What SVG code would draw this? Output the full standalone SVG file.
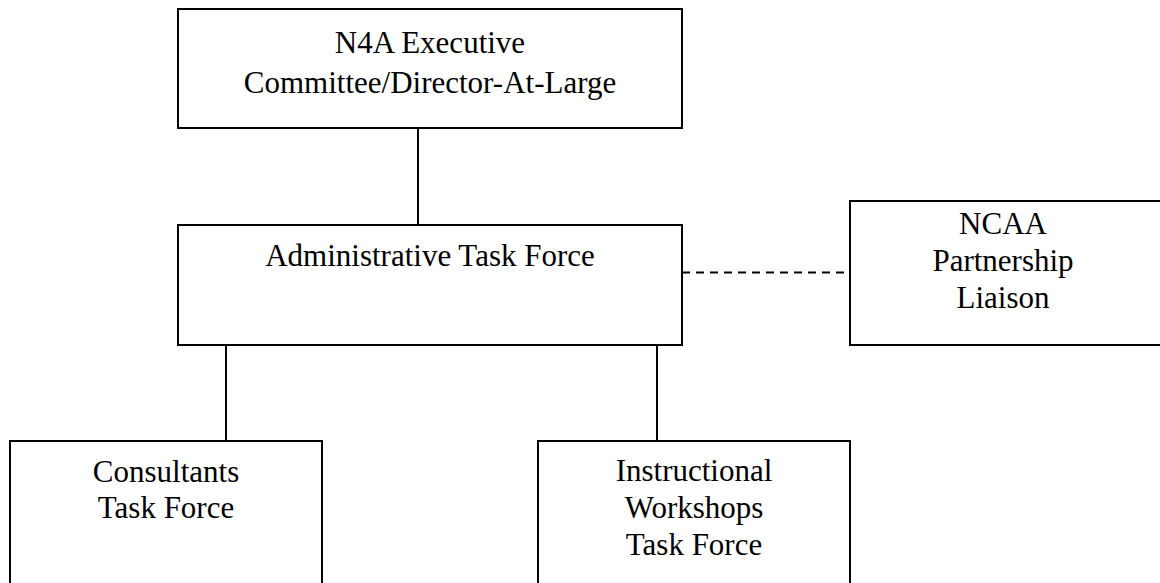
<svg xmlns="http://www.w3.org/2000/svg" width="1160" height="583" viewBox="0 0 1160 583">
<style>
.box{fill:#fff;stroke:#000;stroke-width:2}
.ln{stroke:#000;stroke-width:2;fill:none}
.dash{stroke-dasharray:8,6}
text{font-family:"Liberation Serif","Times New Roman",serif;font-size:31px;fill:#000;text-anchor:middle}
</style>
<rect width="1160" height="583" fill="#fff"/>
<g id="connectors">
<line class="ln" x1="418" y1="128" x2="418" y2="225"/>
<line class="ln" x1="226" y1="345" x2="226" y2="441"/>
<line class="ln" x1="657" y1="345" x2="657" y2="441"/>
<line class="ln dash" x1="682" y1="272.5" x2="850" y2="272.5"/>
</g>
<g id="n4a">
<rect class="box" x="178" y="9" width="504" height="119"/>
<text x="430" y="53">N4A Executive</text>
<text x="430" y="93">Committee/Director-At-Large</text>
</g>
<g id="admin">
<rect class="box" x="178" y="225" width="504" height="120"/>
<text x="430" y="266">Administrative Task Force</text>
</g>
<g id="ncaa">
<rect class="box" x="850" y="201" width="314" height="144"/>
<text x="1003" y="234">NCAA</text>
<text x="1003" y="271">Partnership</text>
<text x="1003" y="308">Liaison</text>
</g>
<g id="consultants">
<rect class="box" x="10" y="441" width="312" height="150"/>
<text x="166" y="482">Consultants</text>
<text x="166" y="518">Task Force</text>
</g>
<g id="workshops">
<rect class="box" x="538" y="441" width="312" height="150"/>
<text x="694" y="481">Instructional</text>
<text x="694" y="518">Workshops</text>
<text x="694" y="555">Task Force</text>
</g>
</svg>
